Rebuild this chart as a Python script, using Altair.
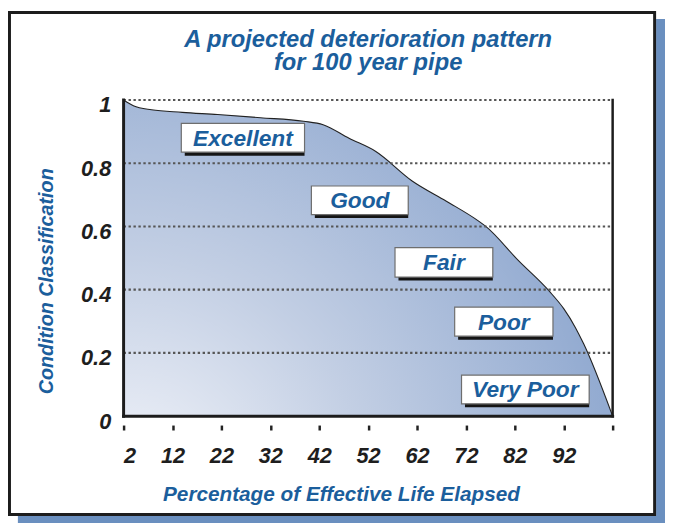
import altair as alt
import pandas as pd

# ---- data ----
life_pct = [2, 4, 7.7, 14, 21.2, 30, 38.8, 42.8, 48.1, 53.5, 61, 68, 74.6, 76, 82.8, 89, 92, 94.4, 96.1, 102]
condition = [1.0, 0.982, 0.969, 0.961, 0.954, 0.944, 0.933, 0.922, 0.879, 0.838, 0.744, 0.68, 0.617, 0.601, 0.491, 0.396, 0.34, 0.28, 0.228, 0.0]

grid_levels = [0.2, 0.4, 0.6, 0.8, 1.0]
y_ticks = [0, 0.2, 0.4, 0.6, 0.8, 1.0]
x_ticks = [2, 12, 22, 32, 42, 52, 62, 72, 82, 92, 102]

class_labels = ["Excellent", "Good", "Fair", "Poor", "Very Poor"]
box_left = [13.8, 40.4, 57.5, 69.7, 71.1]
box_right = [39.0, 60.2, 77.5, 89.8, 97.2]
box_bottom = [0.835, 0.6375, 0.44, 0.253, 0.039]
box_top = [0.926, 0.728, 0.533, 0.345, 0.13]

title_lines = ["A projected deterioration pattern", "for 100 year pipe"]

BLUE_TEXT = "#1b5e9c"
FONT = "Liberation Sans"

curve = pd.DataFrame({"x": life_pct, "y": condition})
grid = pd.DataFrame({"y": grid_levels, "x0": [2] * len(grid_levels), "x1": [102] * len(grid_levels)})
boxes = pd.DataFrame({
    "label": class_labels,
    "x1": box_left, "x2": box_right,
    "y1": box_bottom, "y2": box_top,
})
boxes["xc"] = (boxes["x1"] + boxes["x2"]) / 2
boxes["yc"] = (boxes["y1"] + boxes["y2"]) / 2
one = pd.DataFrame({"a": [0]})

xscale = alt.Scale(domain=[2, 102], nice=False, zero=False)
yscale = alt.Scale(domain=[0, 1], nice=False, zero=False)

x_axis = alt.Axis(
    values=x_ticks,
    labelExpr="datum.value == 102 ? '' : datum.label",
    domain=False, grid=False,
    ticks=True, tickSize=5, tickWidth=2.5, tickColor="#222222",
    offset=9,
    labelFont=FONT, labelFontSize=22, labelFontWeight="bold", labelFontStyle="italic",
    labelColor="#1e1e1e", labelPadding=16,
    title="Percentage of Effective Life Elapsed",
    titleFont=FONT, titleFontSize=21, titleFontWeight="bold", titleFontStyle="italic",
    titleColor=BLUE_TEXT, titleX=220, titleY=70, titleBaseline="middle", titleAlign="center",
)
y_axis = alt.Axis(
    values=y_ticks, format="~g",
    domain=False, grid=False, ticks=False,
    labelFont=FONT, labelFontSize=22, labelFontWeight="bold", labelFontStyle="italic",
    labelColor="#1e1e1e", labelPadding=13, labelOffset=5,
    title="Condition Classification",
    titleFont=FONT, titleFontSize=20, titleFontWeight="bold", titleFontStyle="italic",
    titleColor=BLUE_TEXT, titleX=-78, titleY=183, titleBaseline="middle", titleAlign="center",
    titleAngle=270,
)

# decorative frame: blue drop shadow strips + black panel outline
shadow_right = alt.Chart(one).mark_rect(fill="#6a8fbf").encode(
    x=alt.value(539), x2=alt.value(548), y=alt.value(-82), y2=alt.value(433)
)
shadow_bottom = alt.Chart(one).mark_rect(fill="#6a8fbf").encode(
    x=alt.value(-107), x2=alt.value(548), y=alt.value(421), y2=alt.value(433)
)
frame_panel = alt.Chart(one).mark_rect(fill="white", fillOpacity=0, stroke="#1c1c1c", strokeWidth=3).encode(
    x=alt.value(-115.5), x2=alt.value(537.5), y=alt.value(-88.5), y2=alt.value(419.5)
)

gradient = alt.Gradient(
    gradient="radial",
    stops=[
        alt.GradientStop(color="#f7f8fc", offset=0),
        alt.GradientStop(color="#c3cfe4", offset=0.5),
        alt.GradientStop(color="#93abd1", offset=1),
    ],
    x1=0, y1=1, x2=0, y2=1, r1=0, r2=1.0,
)

area = alt.Chart(curve).mark_area(fill=gradient, interpolate="monotone").encode(
    x=alt.X("x:Q", scale=xscale, axis=x_axis),
    y=alt.Y("y:Q", scale=yscale, axis=y_axis),
)
line = alt.Chart(curve).mark_line(color="#222222", strokeWidth=1.1, interpolate="monotone").encode(
    x="x:Q", y="y:Q"
)

grid_rules = alt.Chart(grid).mark_rule(color="#555555", strokeWidth=2.2, strokeDash=[2.4, 2.6]).encode(
    x="x0:Q", x2="x1:Q", y="y:Q"
)

left_rule = alt.Chart(one).mark_rule(color="#1c1c1c", strokeWidth=3, strokeCap="square").encode(
    x=alt.datum(2), y=alt.datum(0), y2=alt.datum(1)
)
right_rule = alt.Chart(one).mark_rule(color="#1c1c1c", strokeWidth=2.5, strokeCap="square").encode(
    x=alt.datum(102), y=alt.datum(0), y2=alt.datum(1)
)
bottom_rule = alt.Chart(one).mark_rule(color="#1c1c1c", strokeWidth=3, strokeCap="square").encode(
    x=alt.datum(2), x2=alt.datum(102), y=alt.datum(0)
)

box_shadow = alt.Chart(boxes).mark_rect(fill="#151515", xOffset=3.5, yOffset=3.5).encode(
    x="x1:Q", x2="x2:Q", y="y1:Q", y2="y2:Q"
)
box_face = alt.Chart(boxes).mark_rect(fill="white", stroke="#6e6e6e", strokeWidth=1.2).encode(
    x="x1:Q", x2="x2:Q", y="y1:Q", y2="y2:Q"
)
box_text = alt.Chart(boxes).mark_text(
    font=FONT, fontSize=23, fontWeight="bold", fontStyle="italic", color=BLUE_TEXT,
    align="center", baseline="middle", dy=1,
).encode(x="xc:Q", y="yc:Q", text="label:N")

chart = alt.layer(
    shadow_right, shadow_bottom, frame_panel, area, line, grid_rules,
    left_rule, right_rule, bottom_rule, box_shadow, box_face, box_text,
).properties(
    width=495, height=320,
    title=alt.TitleParams(
        text=title_lines, font=FONT, fontSize=24, fontWeight="bold", fontStyle="italic",
        color=BLUE_TEXT, anchor="middle", offset=24, lineHeight=24, frame="group",
        baseline="top", dy=89,
    ),
    padding={"left": 117, "top": 90, "right": 53, "bottom": 105},
    autosize=alt.AutoSizeParams(type="none"),
    background="white",
).configure_view(stroke=None)

chart.save("out.html", embed_options={"renderer": "svg", "actions": False})
